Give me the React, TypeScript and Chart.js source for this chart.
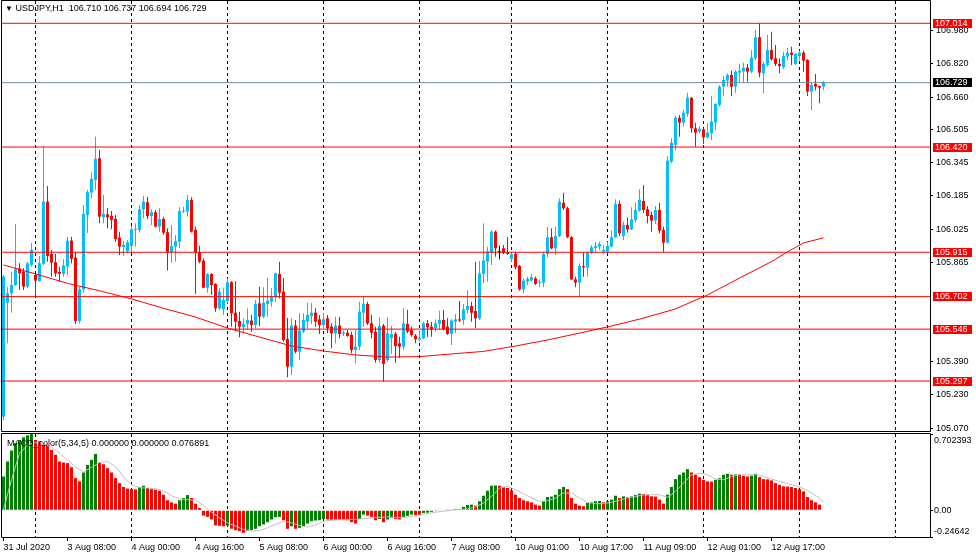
import React, { useEffect, useRef } from "react";
import { Chart, registerables } from "chart.js";

Chart.register(...registerables);

const FONT_FAMILY = '"Liberation Sans", Arial, sans-serif';

// ---------- data ----------
const symbolName = "USDJPY,H1";
const indicatorName = "MACD_color(5,34,5)";

const timeTickBars = [0, 16, 32, 48, 64, 80, 96, 112, 128, 144, 160, 176, 192];
const timeTickLabels = [
  "31 Jul 2020", "3 Aug 08:00", "4 Aug 00:00", "4 Aug 16:00", "5 Aug 08:00",
  "6 Aug 00:00", "6 Aug 16:00", "7 Aug 08:00", "10 Aug 01:00", "10 Aug 17:00",
  "11 Aug 09:00", "12 Aug 01:00", "12 Aug 17:00",
];
const dayBreakBars = [8, 32, 56, 80, 104, 127, 151, 175, 199, 223];

const opens = [
  105.126, 105.673, 105.718, 105.758, 105.838, 105.822, 105.750, 105.854, 105.806, 105.777,
  105.859, 106.158, 105.907, 105.867, 105.820, 105.811, 105.846, 105.971, 105.889, 105.585,
  105.737, 106.094, 106.201, 106.262, 106.366, 106.083, 106.097, 106.089, 106.075, 105.985,
  105.940, 105.921, 105.945, 106.022, 106.022, 106.121, 106.155, 106.089, 106.107, 106.038,
  106.075, 106.011, 105.915, 105.942, 105.966, 106.110, 106.110, 106.166, 106.022, 105.915,
  105.875, 105.745, 105.811, 105.763, 105.646, 105.641, 105.681, 105.771, 105.625, 105.585,
  105.555, 105.571, 105.587, 105.566, 105.670, 105.606, 105.667, 105.678, 105.699, 105.811,
  105.726, 105.499, 105.366, 105.563, 105.438, 105.534, 105.582, 105.609, 105.625, 105.593,
  105.566, 105.598, 105.558, 105.526, 105.563, 105.523, 105.529, 105.518, 105.446, 105.462,
  105.625, 105.667, 105.574, 105.534, 105.398, 105.563, 105.398, 105.502, 105.523, 105.478,
  105.462, 105.571, 105.542, 105.515, 105.497, 105.502, 105.574, 105.558, 105.550, 105.571,
  105.590, 105.558, 105.523, 105.582, 105.593, 105.590, 105.638, 105.657, 105.633, 105.598,
  105.811, 105.870, 105.913, 106.014, 105.915, 105.934, 105.915, 105.883, 105.907, 105.849,
  105.737, 105.774, 105.779, 105.790, 105.769, 105.769, 105.907, 105.987, 105.934, 105.993,
  106.153, 106.126, 105.987, 105.785, 105.769, 105.849, 105.843, 105.913, 105.936, 105.942,
  105.918, 105.918, 105.942, 105.987, 106.147, 105.993, 106.046, 106.025, 106.070, 106.115,
  106.161, 106.121, 106.094, 106.067, 106.118, 106.022, 105.961, 106.350, 106.430, 106.561,
  106.537, 106.579, 106.657, 106.510, 106.494, 106.505, 106.467, 106.486, 106.537, 106.622,
  106.710, 106.739, 106.766, 106.710, 106.777, 106.782, 106.801, 106.782, 106.846, 106.947,
  106.774, 106.814, 106.886, 106.846, 106.819, 106.803, 106.854, 106.873, 106.819, 106.857,
  106.873, 106.838, 106.686, 106.723, 106.713, 106.710,
];
const highs = [
  105.806, 105.750, 105.822, 106.051, 105.862, 105.838, 105.870, 105.960, 105.816, 105.897,
  106.425, 106.233, 105.926, 105.907, 105.846, 105.881, 105.990, 105.990, 105.918, 105.750,
  106.142, 106.214, 106.299, 106.470, 106.406, 106.190, 106.126, 106.113, 106.094, 106.014,
  105.969, 105.974, 106.041, 106.054, 106.142, 106.185, 106.182, 106.121, 106.118, 106.126,
  106.086, 106.030, 106.046, 105.998, 106.131, 106.134, 106.190, 106.179, 106.038, 105.945,
  105.886, 105.814, 105.814, 105.766, 105.742, 105.742, 105.790, 105.777, 105.777, 105.630,
  105.598, 105.646, 105.614, 105.686, 105.750, 105.747, 105.793, 105.742, 105.817, 105.870,
  105.792, 105.600, 105.598, 105.590, 105.622, 105.622, 105.673, 105.670, 105.646, 105.614,
  105.622, 105.614, 105.574, 105.606, 105.606, 105.539, 105.542, 105.534, 105.542, 105.678,
  105.699, 105.678, 105.614, 105.558, 105.603, 105.571, 105.603, 105.561, 105.534, 105.510,
  105.646, 105.638, 105.558, 105.523, 105.534, 105.582, 105.590, 105.582, 105.593, 105.634,
  105.638, 105.598, 105.593, 105.619, 105.681, 105.667, 105.734, 105.678, 105.870, 105.873,
  106.054, 105.942, 106.022, 106.019, 105.946, 105.950, 105.987, 105.918, 105.918, 105.854,
  105.790, 105.798, 105.811, 105.798, 105.785, 105.918, 106.038, 106.030, 106.038, 106.174,
  106.201, 106.134, 105.993, 105.798, 105.862, 105.913, 105.918, 105.950, 105.966, 105.966,
  105.950, 105.966, 106.019, 106.169, 106.163, 106.062, 106.083, 106.131, 106.153, 106.217,
  106.238, 106.137, 106.110, 106.137, 106.153, 106.038, 106.377, 106.462, 106.569, 106.574,
  106.598, 106.681, 106.659, 106.537, 106.521, 106.510, 106.534, 106.665, 106.630, 106.718,
  106.761, 106.774, 106.787, 106.790, 106.819, 106.825, 106.819, 106.886, 106.982, 107.014,
  106.830, 106.958, 106.974, 106.910, 106.846, 106.878, 106.894, 106.902, 106.873, 106.883,
  106.883, 106.841, 106.729, 106.771, 106.713, 106.737,
];
const lows = [
  105.110, 105.478, 105.625, 105.753, 105.734, 105.734, 105.742, 105.846, 105.702, 105.774,
  105.854, 105.870, 105.798, 105.798, 105.774, 105.798, 105.806, 105.862, 105.571, 105.574,
  105.721, 106.008, 106.174, 106.214, 106.054, 106.054, 106.030, 106.025, 105.966, 105.902,
  105.897, 105.910, 105.910, 105.942, 106.009, 106.078, 106.073, 106.046, 106.035, 106.014,
  105.998, 105.827, 105.865, 105.870, 105.934, 106.102, 106.086, 106.010, 105.715, 105.862,
  105.742, 105.721, 105.710, 105.630, 105.638, 105.614, 105.670, 105.558, 105.539, 105.507,
  105.526, 105.545, 105.534, 105.550, 105.561, 105.600, 105.606, 105.654, 105.678, 105.694,
  105.486, 105.315, 105.326, 105.430, 105.398, 105.526, 105.550, 105.571, 105.558, 105.523,
  105.550, 105.526, 105.454, 105.478, 105.502, 105.513, 105.510, 105.430, 105.382, 105.446,
  105.558, 105.566, 105.502, 105.385, 105.385, 105.294, 105.390, 105.427, 105.385, 105.406,
  105.446, 105.526, 105.510, 105.478, 105.486, 105.497, 105.510, 105.510, 105.534, 105.542,
  105.539, 105.518, 105.470, 105.526, 105.582, 105.566, 105.622, 105.582, 105.550, 105.590,
  105.766, 105.774, 105.854, 105.894, 105.882, 105.907, 105.902, 105.870, 105.833, 105.730,
  105.718, 105.758, 105.774, 105.758, 105.747, 105.747, 105.891, 105.929, 105.902, 105.987,
  106.118, 105.982, 105.782, 105.747, 105.699, 105.798, 105.798, 105.907, 105.918, 105.926,
  105.907, 105.910, 105.940, 105.982, 105.993, 105.974, 106.009, 106.022, 106.057, 106.110,
  106.104, 106.054, 106.014, 106.051, 106.006, 105.918, 105.958, 106.342, 106.403, 106.470,
  106.518, 106.566, 106.489, 106.422, 106.486, 106.435, 106.462, 106.454, 106.502, 106.614,
  106.665, 106.710, 106.665, 106.681, 106.729, 106.729, 106.734, 106.774, 106.838, 106.755,
  106.678, 106.806, 106.835, 106.809, 106.774, 106.793, 106.835, 106.814, 106.814, 106.838,
  106.782, 106.665, 106.595, 106.691, 106.630, 106.694,
];
const closes = [
  105.798, 105.718, 105.758, 105.835, 105.814, 105.750, 105.862, 105.926, 105.779, 105.862,
  106.158, 105.897, 105.865, 105.814, 105.811, 105.851, 105.971, 105.883, 105.585, 105.737,
  106.099, 106.204, 106.267, 106.363, 106.086, 106.099, 106.083, 106.070, 105.979, 105.942,
  105.950, 105.963, 106.025, 106.028, 106.121, 106.158, 106.089, 106.107, 106.038, 106.075,
  106.009, 105.915, 105.945, 105.969, 106.113, 106.115, 106.166, 106.014, 105.915, 105.870,
  105.745, 105.811, 105.758, 105.646, 105.726, 105.686, 105.771, 105.622, 105.582, 105.558,
  105.571, 105.590, 105.566, 105.667, 105.606, 105.673, 105.683, 105.702, 105.814, 105.721,
  105.494, 105.366, 105.563, 105.438, 105.539, 105.590, 105.614, 105.625, 105.582, 105.566,
  105.593, 105.550, 105.526, 105.563, 105.523, 105.529, 105.513, 105.446, 105.462, 105.630,
  105.667, 105.574, 105.529, 105.398, 105.561, 105.379, 105.526, 105.523, 105.465, 105.462,
  105.574, 105.534, 105.518, 105.497, 105.505, 105.574, 105.555, 105.545, 105.574, 105.590,
  105.545, 105.523, 105.587, 105.593, 105.587, 105.641, 105.657, 105.625, 105.598, 105.814,
  105.875, 105.918, 106.014, 105.934, 105.915, 105.913, 105.907, 105.907, 105.843, 105.737,
  105.779, 105.787, 105.795, 105.763, 105.774, 105.907, 105.987, 105.934, 105.993, 106.158,
  106.126, 105.987, 105.785, 105.769, 105.849, 105.843, 105.913, 105.939, 105.945, 105.955,
  105.926, 105.945, 105.987, 106.147, 106.006, 106.046, 106.025, 106.073, 106.118, 106.166,
  106.118, 106.089, 106.067, 106.118, 106.019, 105.961, 106.355, 106.441, 106.561, 106.537,
  106.585, 106.657, 106.510, 106.489, 106.508, 106.467, 106.489, 106.542, 106.627, 106.710,
  106.742, 106.766, 106.710, 106.782, 106.787, 106.801, 106.782, 106.849, 106.947, 106.777,
  106.819, 106.886, 106.841, 106.819, 106.809, 106.857, 106.873, 106.862, 106.867, 106.873,
  106.835, 106.686, 106.718, 106.710, 106.705, 106.729,
];

const maBars = [0, 8, 16, 24, 32, 40, 48, 56, 64, 72, 80, 88, 96, 104, 112, 120, 128, 136, 144, 152, 160, 168, 176, 184, 192, 196, 200, 205];
const maValues = [
  105.854, 105.811, 105.766, 105.730, 105.691, 105.646, 105.604, 105.551, 105.508, 105.465,
  105.441, 105.422, 105.412, 105.414, 105.427, 105.439, 105.465, 105.494, 105.527, 105.561,
  105.599, 105.643, 105.710, 105.791, 105.870, 105.917, 105.960, 105.984,
];

const levelPrices = [107.014, 106.420, 105.915, 105.702, 105.546, 105.297];
const bidPrice = 106.729;
const priceTicks = [106.980, 106.820, 106.660, 106.505, 106.345, 106.185, 106.025, 105.865, 105.390, 105.230, 105.070];

const histValues = [
  0.311, 0.449, 0.550, 0.617, 0.647, 0.672, 0.690, 0.702, 0.647, 0.635,
  0.601, 0.592, 0.556, 0.510, 0.449, 0.440, 0.434, 0.397, 0.296, 0.266,
  0.348, 0.418, 0.464, 0.519, 0.440, 0.424, 0.388, 0.348, 0.296, 0.250,
  0.214, 0.200, 0.195, 0.192, 0.214, 0.226, 0.205, 0.195, 0.190, 0.180,
  0.143, 0.092, 0.073, 0.061, 0.092, 0.113, 0.140, 0.113, 0.061, 0.021,
  -0.049, -0.061, -0.085, -0.140, -0.143, -0.147, -0.140, -0.170, -0.183, -0.192,
  -0.208, -0.192, -0.183, -0.171, -0.147, -0.131, -0.110, -0.085, -0.065, -0.062,
  -0.092, -0.171, -0.147, -0.171, -0.162, -0.147, -0.122, -0.101, -0.095, -0.092,
  -0.080, -0.085, -0.087, -0.088, -0.090, -0.091, -0.092, -0.110, -0.122, -0.080,
  -0.040, -0.049, -0.061, -0.092, -0.080, -0.110, -0.085, -0.070, -0.080, -0.085,
  -0.061, -0.052, -0.040, -0.044, -0.046, -0.025, -0.022, -0.015, -0.008, 0.006,
  0.005, 0.002, 0.004, 0.012, 0.013, 0.031, 0.049, 0.052, 0.043, 0.083,
  0.134, 0.180, 0.226, 0.228, 0.226, 0.214, 0.205, 0.183, 0.143, 0.113,
  0.092, 0.083, 0.073, 0.052, 0.043, 0.083, 0.122, 0.126, 0.143, 0.195,
  0.214, 0.195, 0.113, 0.061, 0.043, 0.037, 0.067, 0.073, 0.083, 0.085,
  0.073, 0.083, 0.098, 0.134, 0.113, 0.128, 0.120, 0.128, 0.140, 0.153,
  0.150, 0.143, 0.128, 0.126, 0.098, 0.061, 0.143, 0.214, 0.287, 0.327,
  0.348, 0.379, 0.348, 0.327, 0.305, 0.281, 0.266, 0.264, 0.281, 0.296,
  0.327, 0.336, 0.327, 0.330, 0.327, 0.318, 0.311, 0.318, 0.336, 0.305,
  0.287, 0.285, 0.275, 0.250, 0.235, 0.220, 0.218, 0.214, 0.205, 0.195,
  0.174, 0.122, 0.092, 0.073, 0.052, 0.0,
];

const signalBars = [
  0, 2, 4, 6, 8, 10, 12, 14, 16, 18, 20, 22, 24, 26, 28, 30, 32, 34, 36, 38,
  40, 42, 44, 46, 48, 50, 52, 54, 56, 58, 60, 62, 64, 66, 68, 70, 72, 74, 76, 78,
  80, 84, 88, 92, 96, 100, 104, 108, 112, 116,
  118, 120, 122, 124, 126, 128, 130, 132, 134, 136, 138, 140, 142, 144, 146, 148, 150, 152, 154, 156,
  158, 160, 162, 164, 166, 168, 170, 172, 174, 176, 178, 180, 182, 184, 186, 188, 190, 192, 194, 196,
  198, 200, 202, 204, 205,
];
const signalValues = [
  0.006, 0.281, 0.524, 0.601, 0.623, 0.616, 0.580, 0.525, 0.464, 0.397,
  0.354, 0.394, 0.440, 0.449, 0.403, 0.311, 0.235, 0.208, 0.205, 0.198,
  0.180, 0.134, 0.104, 0.098, 0.092, 0.043, -0.018, -0.070, -0.116, -0.147,
  -0.177, -0.192, -0.186, -0.162, -0.131, -0.101, -0.116, -0.140, -0.156, -0.137,
  -0.101, -0.085, -0.085, -0.070, -0.061, -0.070, -0.043, -0.018, 0.000, 0.012,
  0.031, 0.067, 0.128, 0.205, 0.220, 0.189, 0.153, 0.113, 0.082, 0.088,
  0.113, 0.159, 0.159, 0.113, 0.073, 0.061, 0.061, 0.073, 0.092, 0.113,
  0.128, 0.140, 0.143, 0.143, 0.119, 0.174, 0.250, 0.327, 0.342, 0.327,
  0.287, 0.281, 0.311, 0.327, 0.327, 0.327, 0.311, 0.287, 0.266, 0.244,
  0.226, 0.198, 0.159, 0.113, 0.076891,
];

const macdTicks = [0.702393, 0, -0.24642];
const macdTickLabels = ["0.702393", "0.00", "-0.24642"];

// ---------- styling / layout ----------
const BULL = "#00BFFF";
const BEAR = "#FF0000";
const DOJI = "#000000";
const LEVEL = "#FF0000";
const BID = "#778899";
const MA_COLOR = "#FF0000";
const HIST_UP = "#008000";
const HIST_DOWN = "#FF0000";
const SIGNAL = "#C0C0C0";

const W = 976;
const MAIN_H = 433;
const MACD_H = 126;
const AXIS_W = 46;
const XMIN = -0.375;
const XMAX = 231.625;
const YMIN = 105.057;
const YMAX = 107.121;

const framePlugin = {
  id: "frame",
  afterDraw(chart: any, _args: any, opts: any) {
    const { ctx, chartArea: a } = chart;
    ctx.save();
    ctx.strokeStyle = "#000";
    ctx.lineWidth = 1;
    ctx.beginPath();
    const top = a.top - 0.5;
    const bottom = a.bottom + 0.5;
    const left = a.left - 0.5;
    const right = a.right + 0.5;
    ctx.moveTo(left, top);
    ctx.lineTo(right, top);
    ctx.moveTo(right, top);
    ctx.lineTo(right, bottom);
    ctx.moveTo(left, bottom);
    ctx.lineTo(right, bottom);
    ctx.moveTo(left, top);
    ctx.lineTo(left, bottom);
    ctx.stroke();
    ctx.restore();
  },
};

const priceBoxPlugin = {
  id: "priceBoxes",
  afterDraw(chart: any) {
    const { ctx } = chart;
    const ys = chart.scales.y;
    const x0 = chart.chartArea.right + 3;
    ctx.save();
    ctx.font = `9px ${FONT_FAMILY}`;
    ctx.textBaseline = "middle";
    ctx.textAlign = "left";
    const draw = (v: number, bg: string) => {
      const r = Math.floor(ys.getPixelForValue(v));
      ctx.fillStyle = bg;
      ctx.fillRect(x0, r - 4, 39, 9);
      ctx.fillStyle = "#fff";
      ctx.fillText(v.toFixed(3), x0 + 2, r + 0.5);
    };
    levelPrices.forEach((v) => draw(v, LEVEL));
    draw(bidPrice, "#000");
    ctx.restore();
  },
};

const macdLabelPlugin = {
  id: "macdLabels",
  afterDraw(chart: any) {
    const { ctx } = chart;
    const ys = chart.scales.y;
    ctx.save();
    ctx.font = `9px ${FONT_FAMILY}`;
    ctx.fillStyle = "#000";
    ctx.textBaseline = "middle";
    ctx.textAlign = "left";
    macdTicks.forEach((v, k) => {
      let y = ys.getPixelForValue(v);
      if (k === 0) y += 7;
      else if (k === macdTicks.length - 1) y -= 5.5;
      ctx.fillText(macdTickLabels[k], chart.chartArea.right + 4, y);
    });
    ctx.restore();
  },
};

function candleColor(i: number) {
  if (closes[i] > opens[i]) return BULL;
  if (closes[i] < opens[i]) return BEAR;
  return DOJI;
}

export default function App() {
  const mainRef = useRef<HTMLCanvasElement | null>(null);
  const macdRef = useRef<HTMLCanvasElement | null>(null);

  useEffect(() => {
    Chart.defaults.font.family = FONT_FAMILY;
    Chart.defaults.font.size = 9;
    Chart.defaults.color = "#000";

    const idx = opens.map((_, i) => i);
    const cColors = idx.map(candleColor);
    const line = (data: any[], color: string, order: number) => ({
      type: "line" as const,
      data,
      borderColor: color,
      borderWidth: 1,
      pointRadius: 0,
      tension: 0,
      fill: false,
      order,
    });

    const mainDatasets: any[] = [
      {
        type: "bar",
        data: idx.map((i) => ({ x: i, y: [lows[i], highs[i]] })),
        backgroundColor: cColors,
        barThickness: 1,
        grouped: false,
        inflateAmount: 0,
        borderWidth: 0,
        minBarLength: 1,
        order: 5,
      },
      {
        type: "bar",
        data: idx.map((i) => ({ x: i, y: [opens[i], closes[i]] })),
        backgroundColor: cColors,
        barThickness: 3,
        grouped: false,
        inflateAmount: 0,
        borderWidth: 0,
        minBarLength: 1,
        order: 4,
      },
      line(maBars.map((b, k) => ({ x: b, y: maValues[k] })), MA_COLOR, 3),
      ...levelPrices.map((p) => line([{ x: XMIN, y: p }, { x: XMAX, y: p }], LEVEL, 2)),
      line([{ x: XMIN, y: bidPrice }, { x: XMAX, y: bidPrice }], BID, 1),
    ];

    const dayBreakAxis = {
      type: "linear" as const,
      min: XMIN,
      max: XMAX,
      bounds: "data" as const,
      offset: false,
      position: "bottom" as const,
      ticks: { display: false },
      grid: { offset: false, drawTicks: false, color: "#000", lineWidth: 1 },
      border: { display: false, dash: [3, 3] },
      afterBuildTicks: (s: any) => {
        s.ticks = dayBreakBars.map((v) => ({ value: v }));
      },
      afterFit: (s: any) => {
        s.height = 0;
        s.paddingLeft = 0;
        s.paddingRight = 0;
      },
    };

    const mainChart = new Chart(mainRef.current as HTMLCanvasElement, {
      type: "bar",
      data: { datasets: mainDatasets },
      options: {
        animation: false,
        responsive: false,
        devicePixelRatio: 1,
        events: [],
        layout: { padding: { left: 2, right: 0, top: 1, bottom: 2 } },
        plugins: { legend: { display: false }, tooltip: { enabled: false } },
        scales: {
          x: dayBreakAxis,
          y: {
            type: "linear",
            position: "right",
            min: YMIN,
            max: YMAX,
            bounds: "data",
            beginAtZero: false,
            ticks: {
              color: "#000",
              font: { family: FONT_FAMILY, size: 9 },
              padding: 3,
              autoSkip: false,
              callback: (v: any) => Number(v).toFixed(3),
            },
            grid: { drawOnChartArea: false, drawTicks: true, tickLength: 3, color: "#000" },
            border: { display: false },
            afterBuildTicks: (s: any) => {
              s.ticks = priceTicks.map((v) => ({ value: v }));
            },
            afterFit: (s: any) => {
              s.width = AXIS_W;
              s.paddingTop = 0;
              s.paddingBottom = 0;
            },
          },
        } as any,
      },
      plugins: [framePlugin, priceBoxPlugin],
    } as any);

    const histColors = histValues.map((v, i) => (i === 0 || v > histValues[i - 1] ? HIST_UP : HIST_DOWN));

    const macdChart = new Chart(macdRef.current as HTMLCanvasElement, {
      type: "bar",
      data: {
        datasets: [
          line(signalBars.map((b, k) => ({ x: b, y: signalValues[k] })), SIGNAL, 1),
          {
            type: "bar",
            data: idx.map((i) => ({ x: i, y: histValues[i] })),
            backgroundColor: histColors,
            barThickness: 3,
            grouped: false,
            inflateAmount: 0,
            borderWidth: 0,
            order: 2,
          },
        ] as any[],
      },
      options: {
        animation: false,
        responsive: false,
        devicePixelRatio: 1,
        events: [],
        layout: { padding: { left: 2, right: 0, top: 1, bottom: 0 } },
        plugins: { legend: { display: false }, tooltip: { enabled: false } },
        scales: {
          x: {
            type: "linear",
            min: XMIN,
            max: XMAX,
            bounds: "data",
            offset: false,
            position: "bottom",
            ticks: {
              display: true,
              autoSkip: false,
              maxRotation: 0,
              minRotation: 0,
              align: "start",
              padding: 1,
              color: "#000",
              font: { family: FONT_FAMILY, size: 9 },
              callback: (_v: any, i: number) => timeTickLabels[i],
            },
            grid: { offset: false, drawOnChartArea: false, drawTicks: true, tickLength: 4, color: "#000" },
            border: { display: false },
            afterBuildTicks: (s: any) => {
              s.ticks = timeTickBars.map((v) => ({ value: v }));
            },
            afterFit: (s: any) => {
              s.height = 22;
              s.paddingLeft = 0;
              s.paddingRight = 0;
            },
          },
          xd: dayBreakAxis,
          y: {
            type: "linear",
            position: "right",
            min: macdTicks[macdTicks.length - 1],
            max: macdTicks[0],
            bounds: "data",
            beginAtZero: false,
            ticks: { display: false },
            grid: { drawOnChartArea: false, drawTicks: true, tickLength: 3, color: "#000" },
            border: { display: false },
            afterBuildTicks: (s: any) => {
              s.ticks = macdTicks.map((v) => ({ value: v }));
            },
            afterFit: (s: any) => {
              s.width = AXIS_W;
              s.paddingTop = 0;
              s.paddingBottom = 0;
            },
          },
        } as any,
      },
      plugins: [framePlugin, macdLabelPlugin],
    } as any);

    return () => {
      mainChart.destroy();
      macdChart.destroy();
    };
  }, []);

  const last = opens.length - 1;
  const title = `${symbolName}  ${opens[last].toFixed(3)} ${highs[last].toFixed(3)} ${lows[last].toFixed(3)} ${closes[last].toFixed(3)}`;
  const lastHist = histValues[last];
  const rising = lastHist > histValues[last - 1];
  const upVal = rising ? lastHist : 0;
  const downVal = rising ? 0 : lastHist;
  const macdTitle = `${indicatorName} ${upVal.toFixed(6)} ${downVal.toFixed(6)} ${signalValues[signalValues.length - 1].toFixed(6)}`;

  const textStyle: React.CSSProperties = {
    position: "absolute",
    fontFamily: FONT_FAMILY,
    fontSize: 9,
    lineHeight: "12px",
    color: "#000",
    whiteSpace: "pre",
    pointerEvents: "none",
  };

  return (
    <div style={{ position: "fixed", left: 0, top: 0, width: W, height: MAIN_H + MACD_H, background: "#fff", overflow: "hidden" }}>
      <canvas ref={mainRef} width={W} height={MAIN_H} style={{ position: "absolute", left: 0, top: 0, width: W, height: MAIN_H }} />
      <canvas ref={macdRef} width={W} height={MACD_H} style={{ position: "absolute", left: 0, top: MAIN_H, width: W, height: MACD_H }} />
      <div style={{ ...textStyle, left: 5, top: 2 }}>
        <span style={{ fontSize: 8 }}>▼</span> {title}
      </div>
      <div style={{ ...textStyle, left: 7, top: 437 }}>{macdTitle}</div>
    </div>
  );
}
